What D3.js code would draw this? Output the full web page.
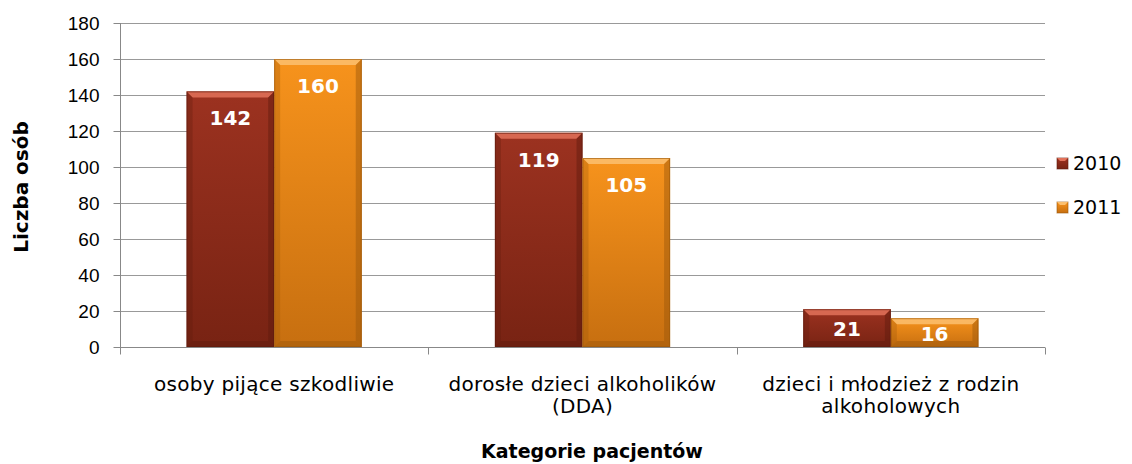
<!DOCTYPE html>
<html lang="pl">
<head>
  <meta charset="UTF-8" />
  <title>Kategorie pacjentów</title>
  <script src="https://d3js.org/d3.v7.min.js"></script>
  <style>
    html, body { margin: 0; background: #fff; }
    svg { display: block; font-family: Verdana, "DejaVu Sans", sans-serif; }
    .grid line { stroke: #999; stroke-width: 1; }
    .axis path, .axis line { stroke: #888; }
    .axis text { fill: #000; font-size: 19px; }
    .axis .cat { font-size: 20px; letter-spacing: 0.3px; }
    .val { fill: #fff; font-weight: bold; font-size: 20px; text-anchor: middle; }
    .title { font-weight: bold; font-size: 19px; fill: #000; text-anchor: middle; }
  </style>
</head>
<body>
<svg id="chart" width="1132" height="464"></svg>
<script>
  const categories = [
    ['osoby pijące szkodliwie'],
    ['dorosłe dzieci alkoholików', '(DDA)'],
    ['dzieci i młodzież z rodzin', 'alkoholowych']
  ];
  const series = ['2010', '2011'];
  const values2010 = [142, 119, 21];
  const values2011 = [160, 105, 16];
  const yTicks = [0, 20, 40, 60, 80, 100, 120, 140, 160, 180];

  const colors = {
    '2010': { top: '#9c3220', bottom: '#782313', light: '#e2725a', dark: '#5e1a0d' },
    '2011': { top: '#f7931c', bottom: '#c76f10', light: '#fbc070', dark: '#9a560a' }
  };

  const plotLeft = 120, plotRight = 1045, plotTop = 23, plotBottom = 347;
  const svg = d3.select('#chart');

  const x = d3.scaleBand().domain(d3.range(categories.length)).range([plotLeft, plotRight]);
  const x1 = d3.scaleBand().domain(series).range([0, x.bandwidth()]).paddingOuter(0.76);
  const y = d3.scaleLinear().domain([0, 180]).range([plotBottom, plotTop]);

  const defs = svg.append('defs');
  series.forEach(s => {
    const g = defs.append('linearGradient').attr('id', 'g' + s)
      .attr('x1', 0).attr('y1', 0).attr('x2', 0).attr('y2', 1);
    g.append('stop').attr('offset', '0%').attr('stop-color', colors[s].top);
    g.append('stop').attr('offset', '100%').attr('stop-color', colors[s].bottom);
  });

  // gridlines
  svg.append('g').attr('class', 'grid')
    .selectAll('line').data(yTicks.filter(d => d > 0)).join('line')
    .attr('x1', plotLeft).attr('x2', plotRight)
    .attr('y1', d => Math.round(y(d)) + 0.5).attr('y2', d => Math.round(y(d)) + 0.5);

  // y axis
  const yAxis = svg.append('g').attr('class', 'axis')
    .attr('transform', `translate(${plotLeft + 0.5},0)`)
    .call(d3.axisLeft(y).tickValues(yTicks).tickSize(7).tickPadding(14).tickSizeOuter(0));
  yAxis.select('.domain').attr('d', `M0,${plotTop}V${plotBottom + 7}`);

  // x axis
  const xAxis = svg.append('g').attr('class', 'axis')
    .attr('transform', `translate(0,${plotBottom + 0.5})`);
  xAxis.append('line').attr('x1', plotLeft).attr('x2', plotRight).attr('stroke', '#888');
  xAxis.selectAll('.tk').data(d3.range(categories.length + 1)).join('line')
    .attr('class', 'tk')
    .attr('x1', i => Math.round(plotLeft + i * x.bandwidth()) + 0.5)
    .attr('x2', i => Math.round(plotLeft + i * x.bandwidth()) + 0.5)
    .attr('y1', 0).attr('y2', 7).attr('stroke', '#888');
  xAxis.selectAll('text').data(categories).join('text')
    .attr('class', 'cat')
    .attr('text-anchor', 'middle')
    .attr('transform', (d, i) => `translate(${x(i) + x.bandwidth() / 2},0)`)
    .each(function(lines) {
      d3.select(this).selectAll('tspan').data(lines).join('tspan')
        .attr('x', 0).attr('y', (l, j) => 43 + j * 22).text(l => l);
    });

  // bars
  const data = [];
  categories.forEach((c, i) => {
    data.push({ i, s: '2010', v: values2010[i] });
    data.push({ i, s: '2011', v: values2011[i] });
  });

  const bars = svg.append('g').selectAll('g').data(data).join('g')
    .attr('transform', d => `translate(${x(d.i) + x1(d.s)},0)`);

  bars.each(function(d) {
    const g = d3.select(this);
    const w = x1.bandwidth(), yt = y(d.v), h = plotBottom - yt, b = Math.min(6, h / 3);
    const c = colors[d.s];
    g.append('rect').attr('x', 0).attr('y', yt).attr('width', w).attr('height', h)
      .attr('fill', `url(#g${d.s})`);
    g.append('path').attr('d', `M0,${yt}H${w}L${w - b},${yt + b}H${b}Z`)
      .attr('fill', c.light).attr('opacity', 0.85);
    g.append('path').attr('d', `M0,${yt}L${b},${yt + b}V${plotBottom - b}L0,${plotBottom}Z`)
      .attr('fill', c.dark).attr('opacity', 0.3);
    g.append('path').attr('d', `M${w},${yt}L${w - b},${yt + b}V${plotBottom - b}L${w},${plotBottom}Z`)
      .attr('fill', c.dark).attr('opacity', 0.45);
    g.append('path').attr('d', `M0,${plotBottom}L${b},${plotBottom - b}H${w - b}L${w},${plotBottom}Z`)
      .attr('fill', c.dark).attr('opacity', 0.45);
    g.append('rect').attr('x', 0.5).attr('y', yt + 0.5).attr('width', w - 1).attr('height', h - 1)
      .attr('fill', 'none').attr('stroke', c.dark).attr('stroke-opacity', 0.6);
    g.append('text').attr('class', 'val')
      .attr('x', w / 2).attr('y', yt + Math.min(34, h / 2 + 8))
      .text(d.v);
  });

  // legend
  const legend = svg.append('g').attr('transform', 'translate(1057,0)');
  series.forEach((s, i) => {
    const yy = 163 + i * 44;
    const c = colors[s];
    legend.append('rect').attr('x', 0).attr('y', yy - 5).attr('width', 11).attr('height', 11)
      .attr('fill', `url(#g${s})`).attr('stroke', c.dark).attr('stroke-opacity', 0.6);
    legend.append('path').attr('d', `M0,${yy - 5}H11L8,${yy - 2}H3Z`).attr('fill', c.light);
    legend.append('text').attr('x', 16).attr('y', yy + 7)
      .attr('font-size', 19).text(s);
  });

  // titles
  svg.append('text').attr('class', 'title')
    .attr('transform', `translate(28,${(plotTop + plotBottom) / 2 + 2}) rotate(-90)`)
    .style('font-size', '20px')
    .text('Liczba osób');
  svg.append('text').attr('class', 'title')
    .attr('x', 592).attr('y', 458).text('Kategorie pacjentów');
</script>
</body>
</html>
